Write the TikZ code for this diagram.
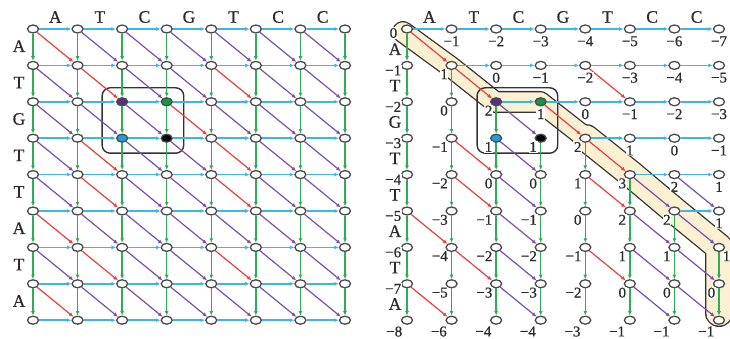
\documentclass[tikz,border=0pt]{standalone}
\usepackage{fontspec}
\setmainfont{Liberation Serif}
\newfontfamily\lblfont{Liberation Serif}[FakeBold=0.6]
\usetikzlibrary{shapes.geometric,arrows.meta,calc}
\definecolor{cblue}{HTML}{3AB7E8}
\definecolor{cgreen}{HTML}{2BAE55}
\definecolor{cred}{HTML}{F03C3C}
\definecolor{cpurple}{HTML}{7F4DA8}
\definecolor{fpurple}{HTML}{5E2A84}
\definecolor{fgreen}{HTML}{149848}
\definecolor{fblue}{HTML}{1CA0DA}
\definecolor{nodeline}{HTML}{4A4A4A}
\definecolor{bandfill}{HTML}{FCF0D2}
\definecolor{bandline}{HTML}{333333}
\definecolor{txt}{HTML}{2B2B2B}
\tikzset{
  gnode/.style={ellipse, draw=nodeline, fill=white, line width=1.3pt,
    minimum width=11pt, minimum height=8pt, inner sep=0pt},
  tipsty/.style={-{Latex[length=4.5pt,width=4pt]}},
  hedge/.style={cblue, line width=1.6pt, tipsty},
  vedge/.style={cgreen, line width=1.4pt, tipsty},
  medge/.style={cred, line width=1.2pt, tipsty},
  xedge/.style={cpurple, line width=1.2pt, tipsty},
  seqlet/.style={font=\lblfont\fontsize{17.5}{17.5}\selectfont, text=txt, inner sep=0pt},
  score/.style={font=\lblfont\fontsize{15}{15}\selectfont, text=txt, fill=white, inner sep=0.6pt},
  lc/.style={anchor=east, xshift=-5pt, yshift=-5pt},
  ld/.style={anchor=north east, xshift=-3pt, yshift=-3pt},
  le/.style={anchor=north east, xshift=-4pt, yshift=-5.5pt},
  lr/.style={anchor=north west, xshift=3pt, yshift=-3pt},
  lb/.style={anchor=north, yshift=-6.5pt},
  lo/.style={anchor=east, xshift=-9pt, yshift=-4pt},
  selbox/.style={draw=bandline, line width=1.4pt, rounded corners=8pt},
  bandouta/.style={draw=bandline, line width=22pt, line join=round, line cap=round},
  bandina/.style={draw=bandfill, line width=19.4pt, line join=round, line cap=round},
  bandoutb/.style={draw=bandline, line width=28pt, line join=round, line cap=round},
  bandinb/.style={draw=bandfill, line width=25.4pt, line join=round, line cap=round},
}
\begin{document}
\begin{tikzpicture}[x=1pt,y=-1pt]
\useasboundingbox (0,0) rectangle (730,339);
\def\dx{44.57}
\def\dy{36.4}
% highlighted optimal path (right grid)
\draw[bandouta] (403,32) -- (451,67) -- (495,102) -- (540,102) -- (586,138);
\draw[bandoutb] (586,138) -- (631,174) -- (675,211) -- (719,247) -- (719,313);
\draw[bandina] (403,32) -- (451,67) -- (495,102) -- (540,102) -- (586,138);
\draw[bandinb] (586,138) -- (631,174) -- (675,211) -- (719,247) -- (719,313);
% nodes
\foreach \i in {0,...,8}{\foreach \j in {0,...,7}{
  \def\fc{white}
  \ifnum\i=2 \ifnum\j=2 \def\fc{fpurple}\fi \ifnum\j=3 \def\fc{fgreen}\fi \fi
  \ifnum\i=3 \ifnum\j=2 \def\fc{fblue}\fi \ifnum\j=3 \def\fc{black}\fi \fi
  \node[gnode, fill=\fc] (L-\i-\j) at ({33+\j*\dx},{29+\i*\dy}) {};
  \node[gnode, fill=\fc] (R-\i-\j) at ({407+\j*\dx},{29+\i*\dy}) {};
}}
% boxes
\draw[selbox] ($(L-2-2)+(-20,-14)$) rectangle ($(L-3-3)+(17,15)$);
\draw[selbox] ($(R-2-2)+(-19,-14)$) rectangle ($(R-3-3)+(17,15)$);
% left grid edges
\foreach \i in {0,...,8}{\foreach \j in {1,...,7}{
  \pgfmathtruncatemacro\jj{\j-1}
  \draw[hedge] (L-\i-\jj) -- (L-\i-\j);
}}
\foreach \i in {1,...,8}{\foreach \j in {0,...,7}{
  \pgfmathtruncatemacro\ii{\i-1}
  \draw[vedge] (L-\ii-\j) -- (L-\i-\j);
}}
\foreach \a [count=\i] in {A,T,G,T,T,A,T,A}{
  \foreach \b [count=\j] in {A,T,C,G,T,C,C}{
    \pgfmathtruncatemacro\ii{\i-1}
    \pgfmathtruncatemacro\jj{\j-1}
    \edef\tmpa{\a}\edef\tmpb{\b}
    \ifx\tmpa\tmpb \def\dst{medge}\else\def\dst{xedge}\fi
    \draw[\dst] (L-\ii-\jj) -- (L-\i-\j);
}}
% right grid edges
\foreach \i/\j in {0/1,0/2,0/3,0/4,0/5,0/6,0/7,1/2,1/3,1/4,1/5,1/6,1/7,
  2/3,2/4,2/5,2/6,2/7,3/5,3/6,3/7,4/6,4/7,5/7}{
  \pgfmathtruncatemacro\jj{\j-1}
  \draw[hedge] (R-\i-\jj) -- (R-\i-\j);
}
\foreach \i/\j in {1/0,2/0,3/0,4/0,5/0,6/0,7/0,8/0,2/1,3/1,3/2,4/1,4/2,4/3,4/4,
  5/1,5/2,5/3,5/4,5/5,6/1,6/2,6/3,6/4,6/5,6/6,
  7/1,7/2,7/3,7/4,7/5,7/6,7/7,8/1,8/2,8/3,8/4,8/5,8/6,8/7}{
  \pgfmathtruncatemacro\ii{\i-1}
  \draw[vedge] (R-\ii-\j) -- (R-\i-\j);
}
\foreach \i/\j/\st in {1/1/medge,2/2/medge,2/5/medge,3/4/medge,4/2/medge,4/5/medge,
  5/2/medge,5/5/medge,6/1/medge,7/2/medge,7/5/medge,8/1/medge,
  3/3/xedge,4/3/xedge,5/3/xedge,5/6/xedge,5/7/xedge,6/3/xedge,6/6/xedge,6/7/xedge,
  7/3/xedge,7/6/xedge,7/7/xedge,8/3/xedge,8/6/xedge,8/7/xedge}{
  \pgfmathtruncatemacro\ii{\i-1}
  \pgfmathtruncatemacro\jj{\j-1}
  \draw[\st] (R-\ii-\jj) -- (R-\i-\j);
}
% scores
\foreach \i/\j/\s/\t in {
  0/0/0/lo,0/1/−1/lb,0/2/−2/lb,0/3/−3/lb,0/4/−4/lb,0/5/−5/lb,0/6/−6/lb,0/7/−7/lb,
  1/0/−1/lc,1/1/1/ld,1/2/0/lb,1/3/−1/lb,1/4/−2/lb,1/5/−3/lb,1/6/−4/lb,1/7/−5/lb,
  2/0/−2/lc,2/1/0/ld,2/2/2/ld,2/3/1/lb,2/4/0/lb,2/5/−1/lb,2/6/−2/lb,2/7/−3/lb,
  3/0/−3/lc,3/1/−1/ld,3/2/1/ld,3/3/1/ld,3/4/2/ld,3/5/1/lb,3/6/0/lb,3/7/−1/lb,
  4/0/−4/lc,4/1/−2/ld,4/2/0/ld,4/3/0/ld,4/4/1/ld,4/5/3/ld,4/6/2/lb,4/7/1/lb,
  5/0/−5/lc,5/1/−3/ld,5/2/−1/ld,5/3/−1/ld,5/4/0/ld,5/5/2/ld,5/6/2/ld,5/7/1/lb,
  6/0/−6/lc,6/1/−4/ld,6/2/−2/ld,6/3/−2/ld,6/4/−1/ld,6/5/1/ld,6/6/1/ld,6/7/1/lr,
  7/0/−7/lc,7/1/−5/ld,7/2/−3/ld,7/3/−3/ld,7/4/−2/ld,7/5/0/ld,7/6/0/ld,7/7/0/ld,
  8/0/−8/le,8/1/−6/le,8/2/−4/le,8/3/−4/le,8/4/−3/le,8/5/−1/le,8/6/−1/le,8/7/−1/le}{
  \node[score, \t] (S-\i-\j) at (R-\i-\j) {\s};
}
% sequence letters
\foreach \c [count=\j] in {A,T,C,G,T,C,C}{
  \node[seqlet] (TL-\j) at ({33+(\j-0.5)*\dx},17) {\c};
  \node[seqlet] (TR-\j) at ({407+(\j-0.5)*\dx},17) {\c};
}
\foreach \c [count=\i] in {A,T,G,T,T,A,T,A}{
  \node[seqlet] (SL-\i) at (19,{29+(\i-0.5)*\dy-1}) {\c};
  \node[seqlet] (SR-\i) at (395,{29+(\i-0.5)*\dy+2}) {\c};
}
\end{tikzpicture}
\end{document}
